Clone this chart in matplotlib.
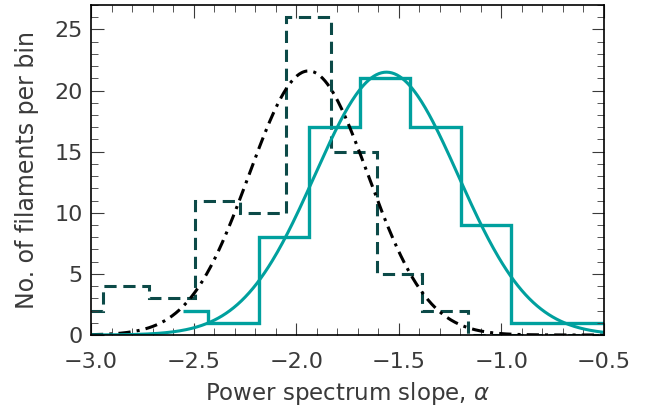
import numpy as np
import matplotlib.pyplot as plt
from matplotlib.ticker import MultipleLocator

# Histogram of filaments (solid teal) - bin edges and counts
teal_edges = [-2.55, -2.428, -2.182, -1.936, -1.690, -1.443, -1.197, -0.951, -0.5]
teal_counts = [2, 1, 8, 17, 21, 17, 9, 1]

# Second histogram (dashed)
dash_edges = [-3.0, -2.94, -2.717, -2.495, -2.273, -2.051, -1.829, -1.607, -1.385, -1.163, -0.5]
dash_counts = [2, 4, 3, 11, 10, 26, 15, 5, 2, 0]

# Gaussian fits: amplitude, centre, sigma
teal_fit = (21.5, -1.56, 0.35)
black_fit = (21.6, -1.94, 0.29)

teal = '#00A09E'
dark = '#0C4A48'
txt = '#3a3a3a'

fig = plt.figure(figsize=(6.56, 4.07), dpi=100)
ax = fig.add_axes([0.1387, 0.1769, 0.782, 0.811])

ax.stairs(dash_counts, dash_edges, color=dark, lw=2.2, ls=(0, (4, 2.2)), baseline=None)
ax.stairs(teal_counts, teal_edges, color=teal, lw=2.4, baseline=None)

x = np.linspace(-3.0, -0.5, 400)
a, mu, s = black_fit
ax.plot(x, a * np.exp(-(x - mu) ** 2 / (2 * s ** 2)), color='black', lw=2.2,
        ls=(0, (4, 2, 1, 2)))
a, mu, s = teal_fit
ax.plot(x, a * np.exp(-(x - mu) ** 2 / (2 * s ** 2)), color=teal, lw=2.2)

ax.set_xlim(-3.0, -0.5)
ax.set_ylim(0, 27)
ax.xaxis.set_major_locator(MultipleLocator(0.5))
ax.xaxis.set_minor_locator(MultipleLocator(0.1))
ax.yaxis.set_major_locator(MultipleLocator(5))
ax.yaxis.set_minor_locator(MultipleLocator(1))
ax.tick_params(which='both', direction='in', top=True, right=True,
               labelsize=16, colors=txt)
ax.tick_params(axis='x', pad=12)
ax.tick_params(axis='y', pad=6)
ax.tick_params(which='major', length=9)
ax.tick_params(which='minor', length=5)
ax.xaxis.set_major_formatter(plt.FuncFormatter(lambda v, p: f'{v:.1f}'.replace('-', '\u2212')))
for sp in ax.spines.values():
    sp.set_linewidth(1.2)

ax.set_xlabel(r'Power spectrum slope, $\alpha$', fontsize=16.5, color=txt, labelpad=6)
ax.set_ylabel('No. of filaments per bin', fontsize=17, color=txt, labelpad=11)

fig.savefig('out.png', dpi=100)
